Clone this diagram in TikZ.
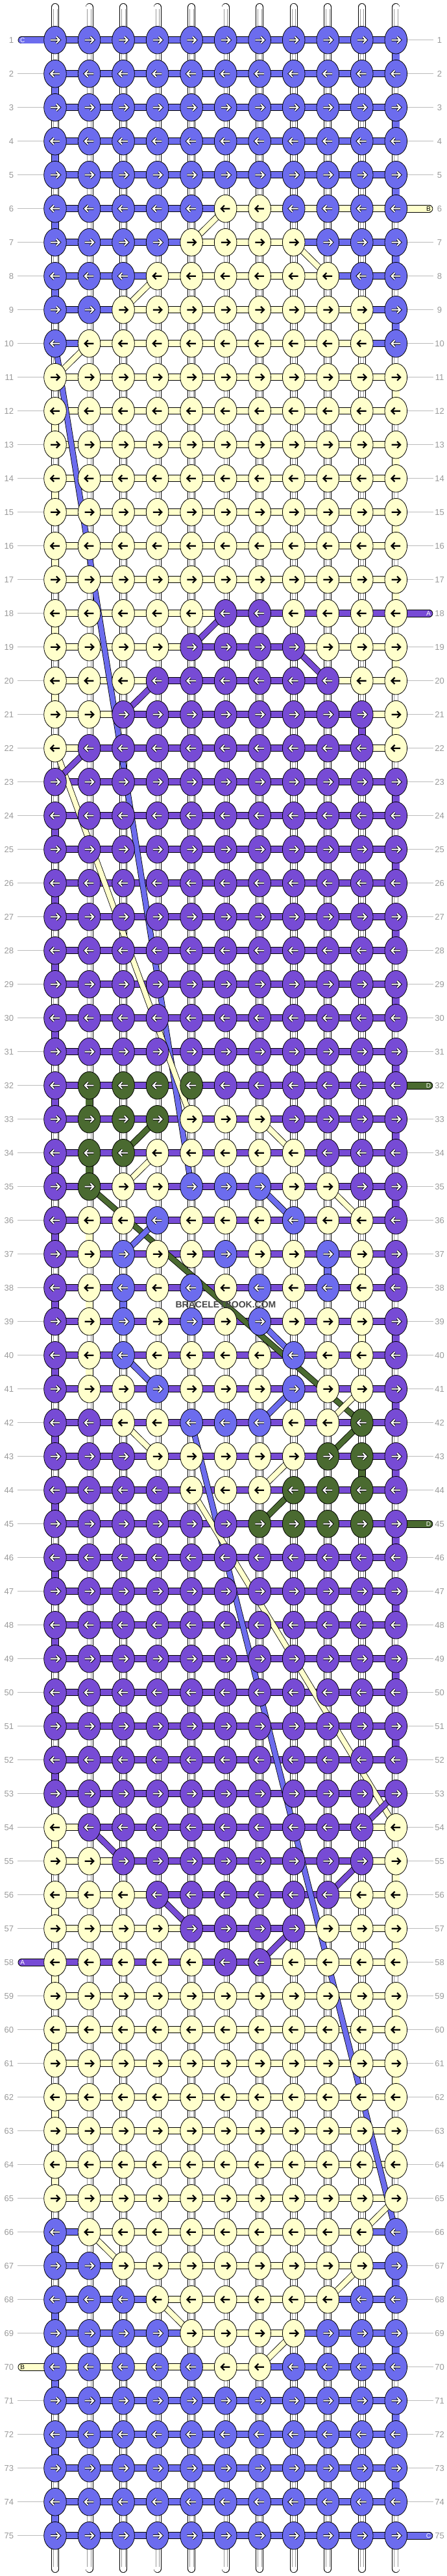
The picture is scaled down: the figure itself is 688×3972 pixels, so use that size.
\documentclass[tikz,border=0pt]{standalone}
\usepackage{fontspec}
\setmainfont{Liberation Sans}
\usetikzlibrary{shapes.geometric}
\definecolor{kC}{HTML}{6C6CEE}
\definecolor{kY}{HTML}{FFFFCC}
\definecolor{kP}{HTML}{774BD5}
\definecolor{kG}{HTML}{4A6A30}
\definecolor{labc}{HTML}{9A9A9A}
\definecolor{labl}{HTML}{BBBBBB}
\pgfdeclarelayer{tubes}\pgfdeclarelayer{bars}\pgfdeclarelayer{lines}
\pgfsetlayers{tubes,bars,lines,main}
\def\arrowpath{(-6.8,0) -- (6.2,0) (1.8,-5) -- (6.8,0) -- (1.8,5)}
\newcount\kcol
\newcount\bcol
\newcommand\kknot[3]{%
  \pgfmathsetmacro\kx{85+52.53*(#2-1)}%
  \pgfmathsetmacro\ky{61.7+52*(#1-1)}%
  \node[knot,fill=k#3] (k-#1-#2) at (\kx,\ky) {};%
  \ifodd#1\relax\def\adir{1}\else\def\adir{-1}\fi
  \if Y#3\relax
    \draw[line width=2.2pt,black,shift={(\kx,\ky)},xscale=\adir] \arrowpath;
  \else
    \draw[line width=3.8pt,black,shift={(\kx,\ky)},xscale=\adir] \arrowpath;
    \draw[line width=2.0pt,white,shift={(\kx,\ky)},xscale=\adir] \arrowpath;
  \fi}
\newcommand\krow[2]{\edef\kr{#1}\global\kcol=0 \krowloop#2\relax}
\def\krowloop#1{\ifx\relax#1\else\global\advance\kcol by 1 \edef\kc{\the\kcol}\kknot{\kr}{\kc}{#1}\expandafter\krowloop\fi}
\newcommand\strand[5]{\draw[line width=#2pt,black] (#4) -- (#5); \draw[line width=#3pt,color=#1] (#4) -- (#5);}
\newcommand\brow[2]{\edef\br{#1}\global\bcol=0 \browloop#2\relax}
\def\browloop#1{\ifx\relax#1\else\global\advance\bcol by 1 \edef\bc{\the\bcol}\edef\bd{\the\numexpr\bcol+1\relax}\strand{k#1}{10.6}{9}{k-\br-\bc.center}{k-\br-\bd.center}\expandafter\browloop\fi}
\newcommand\vconn[3]{\edef\vr{\the\numexpr#1+1\relax}\strand{k#3}{12}{10.4}{k-#1-#2.center}{k-\vr-#2.center}}
\newcommand\capleft[4]{%
  \coordinate (cap-#1) at (33.3,{61.7+52*(#1-1)});
  \draw[line width=11.6pt,black,line cap=round] (cap-#1) -- (k-#1-1.center);
  \draw[line width=10pt,color=#2,line cap=round] (cap-#1) -- (k-#1-1.center);
  \node[capl,text=#4] at ([xshift=1.5pt]cap-#1) {#3};}
\newcommand\capright[4]{%
  \coordinate (cap-#1) at (661.5,{61.7+52*(#1-1)});
  \draw[line width=11.6pt,black,line cap=round] (k-#1-11.center) -- (cap-#1);
  \draw[line width=10pt,color=#2,line cap=round] (k-#1-11.center) -- (cap-#1);
  \node[capl,text=#4] at ([xshift=-1pt]cap-#1) {#3};}
\begin{document}
\begin{tikzpicture}[x=1pt,y=-1pt,
  knot/.style={ellipse,draw=black,line width=0.8pt,minimum width=34.6pt,minimum height=42.6pt,inner sep=0pt},
  lab/.style={text=labc,font=\fontsize{13}{13}\selectfont,inner sep=0pt},
  capl/.style={font=\fontsize{10}{10}\selectfont,inner sep=0pt},
  labline/.style={draw=labl,line width=1pt}]
\useasboundingbox (0,0) rectangle (688,3972);
% ---------- tubes (white strings)
\begin{pgfonlayer}{tubes}
\fill[white] (0,0) rectangle (688,3972);
\foreach \j in {1,...,11}{
  \pgfmathsetmacro\tx{85+52.53*(\j-1)}
  \coordinate (t-\j) at (\tx,11);
  \coordinate (b-\j) at (\tx,3961);
  \draw[line width=12pt,black,line cap=round] (t-\j) -- (b-\j);
  \draw[line width=10.4pt,white,line cap=round] (t-\j) -- (b-\j);
  \draw[line width=0.5pt,black!40] ([xshift=-2.8pt,yshift=-3pt]t-\j) -- ([xshift=-2.8pt,yshift=3pt]b-\j);
  \draw[line width=0.5pt,black!40] ([xshift=2.8pt,yshift=-3pt]t-\j) -- ([xshift=2.8pt,yshift=3pt]b-\j);
}
\end{pgfonlayer}
% ---------- knots
\foreach \r in {1,...,5}{\krow{\r}{CCCCCCCCCCC}}
\krow{6}{CCCCCYYCCCC}
\krow{7}{CCCCYYYYCCC}
\krow{8}{CCCYYYYYYCC}
\krow{9}{CCYYYYYYYYC}
\krow{10}{CYYYYYYYYYC}
\foreach \r in {11,...,17}{\krow{\r}{YYYYYYYYYYY}}
\krow{18}{YYYYYPPYYYY}
\krow{19}{YYYYPPPPYYY}
\krow{20}{YYYPPPPPPYY}
\krow{21}{YYPPPPPPPPY}
\krow{22}{YPPPPPPPPPY}
\foreach \r in {23,...,31}{\krow{\r}{PPPPPPPPPPP}}
\krow{32}{PGGGGPPPPPP}
\krow{33}{PGGGYYYPPPP}
\krow{34}{PGGYYYYYPPP}
\krow{35}{PGYYCCCYYPP}
\krow{36}{PYYCYYYCYYP}
\krow{37}{PYCYYCYYCYP}
\krow{38}{PYCYCYCYCYP}
\krow{39}{PYCYCYCYYYP}
\krow{40}{PYCYYYYCYYP}
\krow{41}{PYYCYYYCYYP}
\krow{42}{PPYYCCCYYGP}
\krow{43}{PPPYYYYYGGP}
\krow{44}{PPPPYYYGGGP}
\krow{45}{PPPPPPGGGGP}
\foreach \r in {46,...,53}{\krow{\r}{PPPPPPPPPPP}}
\krow{54}{YPPPPPPPPPY}
\krow{55}{YYPPPPPPPPY}
\krow{56}{YYYPPPPPPYY}
\krow{57}{YYYYPPPPYYY}
\krow{58}{YYYYYPPYYYY}
\foreach \r in {59,...,65}{\krow{\r}{YYYYYYYYYYY}}
\krow{66}{CYYYYYYYYYC}
\krow{67}{CCYYYYYYYYC}
\krow{68}{CCCYYYYYYCC}
\krow{69}{CCCCYYYYCCC}
\krow{70}{CCCCCYYCCCC}
\foreach \r in {71,...,75}{\krow{\r}{CCCCCCCCCCC}}
% ---------- bars, edge connectors, capsules, label lines
\begin{pgfonlayer}{bars}
\foreach \r in {1,...,9}{\ifodd\r\relax\def\cc{11}\else\def\cc{1}\fi\vconn{\r}{\cc}{C}}
\foreach \r in {11,...,21}{\ifodd\r\relax\def\cc{11}\else\def\cc{1}\fi\vconn{\r}{\cc}{Y}}
\foreach \r in {23,...,52}{\ifodd\r\relax\def\cc{11}\else\def\cc{1}\fi\vconn{\r}{\cc}{P}}
\foreach \r in {54,...,64}{\ifodd\r\relax\def\cc{11}\else\def\cc{1}\fi\vconn{\r}{\cc}{Y}}
\foreach \r in {66,...,74}{\ifodd\r\relax\def\cc{11}\else\def\cc{1}\fi\vconn{\r}{\cc}{C}}
\foreach \a/\b/\q in {9/10/Y,21/10/P,32/2/G,34/2/G,43/10/G,36/2/Y,37/10/Y,38/2/Y,39/10/Y,40/2/Y,37/9/C,38/3/C}{\vconn{\a}{\b}{\q}}
\foreach \r in {1,...,5}{\brow{\r}{CCCCCCCCCC}}
\brow{6}{CCCCCYYYYY}
\brow{7}{CCCCYYYCCC}
\brow{8}{CCCYYYYYCC}
\brow{9}{CCYYYYYYYC}
\brow{10}{CYYYYYYYYC}
\foreach \r in {11,...,17}{\brow{\r}{YYYYYYYYYY}}
\brow{18}{YYYYYPPPPP}
\brow{19}{YYYYPPPYYY}
\brow{20}{YYYPPPPPYY}
\brow{21}{YYPPPPPPPY}
\brow{22}{YPPPPPPPPY}
\foreach \r in {23,...,53}{\brow{\r}{PPPPPPPPPP}}
\brow{54}{YPPPPPPPPY}
\brow{55}{YYPPPPPPPY}
\brow{56}{YYYPPPPPYY}
\brow{57}{YYYYPPPYYY}
\brow{58}{PPPPPPYYYY}
\foreach \r in {59,...,65}{\brow{\r}{YYYYYYYYYY}}
\brow{66}{CYYYYYYYYC}
\brow{67}{CCYYYYYYYC}
\brow{68}{CCCYYYYYCC}
\brow{69}{CCCCYYYCCC}
\brow{70}{YYYYYYCCCC}
\foreach \r in {71,...,75}{\brow{\r}{CCCCCCCCCC}}
\capleft{1}{kC}{C}{white}
\capright{6}{kY}{B}{black}
\capright{18}{kP}{A}{white}
\capright{32}{kG}{D}{white}
\capright{45}{kG}{D}{white}
\capleft{58}{kP}{A}{white}
\capleft{70}{kY}{B}{black}
\capright{75}{kC}{C}{white}
\foreach \r in {1,...,75}{
  \pgfmathsetmacro\ly{61.7+52*(\r-1)}
  \node[lab,anchor=east] (ll-\r) at (21.3,\ly) {\r};
  \node[lab] (lr-\r) at (677.5,\ly) {\r};
  \coordinate (rl-\r) at (668,\ly);
  \pgfmathtruncatemacro\skl{(\r==1)||(\r==58)||(\r==70)}
  \pgfmathtruncatemacro\skr{(\r==6)||(\r==18)||(\r==32)||(\r==45)||(\r==75)}
  \ifnum\skl=0 \draw[labline] ([xshift=5.3pt]ll-\r.east) -- (k-\r-1.center);\fi
  \ifnum\skr=0 \draw[labline] (k-\r-11.center) -- (rl-\r);\fi
}
\end{pgfonlayer}
% ---------- carried threads and diagonals
\begin{pgfonlayer}{lines}
\foreach \a/\b/\c/\d/\q in {10/1/35/5/kC,42/5/66/11/kC,22/1/33/5/kY,44/5/54/11/kY,35/2/42/10/kG}{
  \strand{\q}{9.2}{7.6}{k-\a-\b.center}{k-\c-\d.center}}
\foreach \a/\b/\c/\d/\q in {6/6/7/5/kY,7/8/8/9/kY,8/4/9/3/kY,10/2/11/1/kY,33/7/34/8/kY,34/4/35/3/kY,35/9/36/10/kY,41/10/42/9/kY,42/3/43/4/kY,43/8/44/7/kY,65/11/66/10/kY,66/2/67/3/kY,67/10/68/9/kY,68/4/69/5/kY,69/8/70/7/kY,
  18/6/19/5/kP,19/8/20/9/kP,20/4/21/3/kP,22/2/23/1/kP,53/11/54/10/kP,54/2/55/3/kP,55/10/56/9/kP,56/4/57/5/kP,57/8/58/7/kP,
  33/4/34/3/kG,42/10/43/9/kG,44/8/45/7/kG,
  35/7/36/8/kC,36/4/37/3/kC,39/7/40/8/kC,40/3/41/4/kC,41/8/42/7/kC}{
  \strand{\q}{9.6}{8}{k-\a-\b.center}{k-\c-\d.center}}
\end{pgfonlayer}
\node[font=\bfseries\fontsize{14}{14}\selectfont,text=black!72,inner sep=0pt] (wm) at (348,2012) {BRACELETBOOK.COM};
\end{tikzpicture}
\end{document}
